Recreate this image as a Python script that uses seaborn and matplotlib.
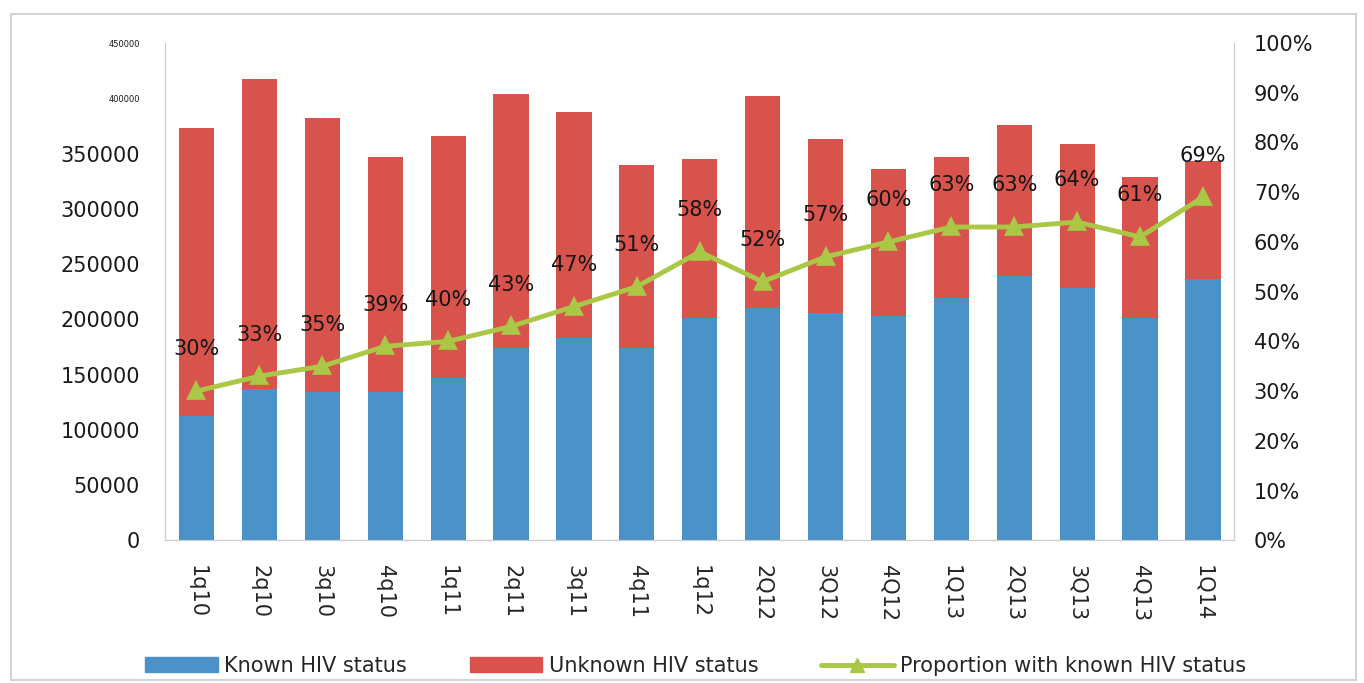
import numpy as np
import pandas as pd
import matplotlib
matplotlib.use("Agg")
import matplotlib.pyplot as plt
import seaborn as sns
from matplotlib.lines import Line2D
from matplotlib.patches import Patch, Rectangle

quarters = ["1q10", "2q10", "3q10", "4q10", "1q11", "2q11", "3q11", "4q11", "1q12",
            "2Q12", "3Q12", "4Q12", "1Q13", "2Q13", "3Q13", "4Q13", "1Q14"]
known = [112000, 137000, 134000, 134000, 147000, 174000, 183000, 174000, 201000,
         210000, 206000, 203000, 219000, 239000, 228000, 201000, 236000]
total = [373000, 417000, 382000, 347000, 366000, 404000, 388000, 340000, 345000,
         402000, 363000, 336000, 347000, 376000, 359000, 329000, 343000]
pct_known = [30, 33, 35, 39, 40, 43, 47, 51, 58, 52, 57, 60, 63, 63, 64, 61, 69]

left_ticks = [0, 50000, 100000, 150000, 200000, 250000, 300000, 350000, 400000, 450000]
right_ticks = [0, 10, 20, 30, 40, 50, 60, 70, 80, 90, 100]

BLUE = "#4b92c9"
RED = "#d9534d"
GREEN = "#aac746"

df = pd.DataFrame({"quarter": quarters, "known": known, "total": total, "pct": pct_known})

sns.set_style("white")
plt.rcParams["font.family"] = ["DejaVu Sans"]

fig = plt.figure(figsize=(13.64, 6.83), dpi=100)
ax = fig.add_axes([0.121, 0.209, 0.784, 0.728])

sns.barplot(data=df, x="quarter", y="total", color=RED, saturation=1, width=0.56,
            linewidth=0, ax=ax)
sns.barplot(data=df, x="quarter", y="known", color=BLUE, saturation=1, width=0.56,
            linewidth=0, ax=ax)
ax.set_xlim(-0.5, len(quarters) - 0.5)
ax.set_ylim(0, 450000)
ax.set_yticks(left_ticks)
ax.set_yticklabels([str(t) for t in left_ticks], fontsize=15, color="#1a1a1a")
# les deux labels du haut sont minuscules dans l'original
for lab in ax.get_yticklabels()[-2:]:
    lab.set_fontsize(6)
ax.set_xlabel("")
ax.set_ylabel("")
ax.tick_params(axis="x", labelrotation=270, labelsize=15, length=0, pad=18)
ax.tick_params(axis="y", length=0, pad=18)

ax2 = ax.twinx()
sns.pointplot(data=df, x="quarter", y="pct", color=GREEN, markers="^", markersize=10,
              linewidth=3.5, ax=ax2)
ax2.set_xlim(-0.5, len(quarters) - 0.5)
ax2.set_ylim(0, 100)
ax2.set_yticks(right_ticks)
ax2.set_yticklabels([f"{t}%" for t in right_ticks], fontsize=15, color="#1a1a1a")
ax2.tick_params(axis="y", length=0, pad=14)
ax2.set_ylabel("")
for i, v in enumerate(pct_known):
    ax2.annotate(f"{v}%", (i, v), xytext=(0, 30), textcoords="offset points",
                 ha="center", va="center", fontsize=15, color="#151515")

for a in (ax, ax2):
    for s in a.spines.values():
        s.set_color("#c8ccd0")
    a.spines["top"].set_visible(False)

handles = [Patch(color=BLUE), Patch(color=RED),
           Line2D([], [], color=GREEN, lw=3.5, marker="^", markersize=10)]
fig.legend(handles, ["Known HIV status", "Unknown HIV status", "Proportion with known HIV status"],
           loc="center", bbox_to_anchor=(0.51, 0.025), ncol=3, frameon=False, fontsize=15,
           handlelength=3.5, columnspacing=3, handletextpad=0.3)

fig.patches.append(Rectangle((0.008, 0.005), 0.986, 0.975, transform=fig.transFigure,
                             fill=False, edgecolor="#d0d4d8", lw=1.5))

plt.savefig("out.png", dpi=100)
plt.close()
